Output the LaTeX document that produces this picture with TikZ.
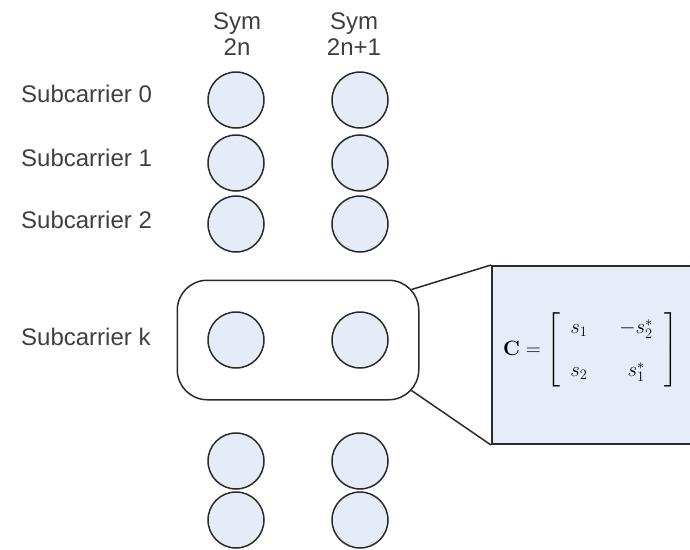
\documentclass[tikz,border=0pt]{standalone}
\usepackage{fontspec}
\newfontfamily\labelfont{Liberation Sans}
\usepackage{amsmath}
\usetikzlibrary{fit,calc}
\definecolor{cellfill}{HTML}{E6ECF7}
\definecolor{boxfill}{HTML}{E6ECF8}
\definecolor{ink}{HTML}{2A2A2A}
\begin{document}
\begin{tikzpicture}[x=1pt,y=-1pt,
  sym/.style={circle,draw=ink,line width=1.5pt,fill=cellfill,minimum size=56pt,inner sep=0pt},
  lbl/.style={font=\labelfont\fontsize{24}{26}\selectfont,text=ink!90,inner sep=0pt},
  grp/.style={draw=ink,line width=1.5pt,rounded corners=30pt,inner xsep=30pt,inner ysep=31pt},
  zoombox/.style={draw=ink,line width=2pt,fill=boxfill,minimum width=260pt,minimum height=178pt,inner sep=0pt,anchor=north west},
  link/.style={draw=ink,line width=1.5pt}]
\clip (0,0) rectangle (690,549);
\path[use as bounding box] (0,0) rectangle (690,549);
% column headings
\node[lbl,align=center] (h0) at (237,34) {Sym\\2n};
\node[lbl,align=center] (h1) at (354,34) {Sym\\2n+1};
% row labels
\node[lbl,anchor=west] (r0) at (21,94) {Subcarrier 0};
\node[lbl,anchor=west] (r1) at (21,158) {Subcarrier 1};
\node[lbl,anchor=west] (r2) at (21,220) {Subcarrier 2};
\node[lbl,anchor=west] (rk) at (21,337) {Subcarrier k};
% symbol cells
\node[sym] (a0) at (236,100) {};
\node[sym] (b0) at (360,100) {};
\node[sym] (a1) at (236,163) {};
\node[sym] (b1) at (360,163) {};
\node[sym] (a2) at (236,224) {};
\node[sym] (b2) at (360,224) {};
\node[sym] (ak) at (236,340) {};
\node[sym] (bk) at (360,340) {};
\node[sym] (a4) at (236,461) {};
\node[sym] (b4) at (360,461) {};
\node[sym] (a5) at (236,520) {};
\node[sym] (b5) at (360,520) {};
% pair grouping for subcarrier k
\node[grp,fit=(ak)(bk)] (kgrp) {};
% enlarged code matrix
\node[zoombox] (zbox) at (491,265) {};
\node[inner sep=0pt,anchor=west] (cmat) at (503,350)
  {\fontsize{22}{26}\selectfont
   $\boldsymbol{\mathbf{C}} = \left[\begin{array}{@{\hspace{10pt}}c@{\hspace{32pt}}c@{\hspace{12pt}}} s_1 & -s_2^{*}\\[17pt] s_2 & s_1^{*}\end{array}\right]$};
% zoom lines
\coordinate (kt) at ($(kgrp.north east)+(-8pt,-10pt)$);
\coordinate (kb) at ($(kgrp.south east)+(-8pt,10pt)$);
\draw[link] (kt) -- (zbox.north west);
\draw[link] (kb) -- (zbox.south west);
\end{tikzpicture}
\end{document}
